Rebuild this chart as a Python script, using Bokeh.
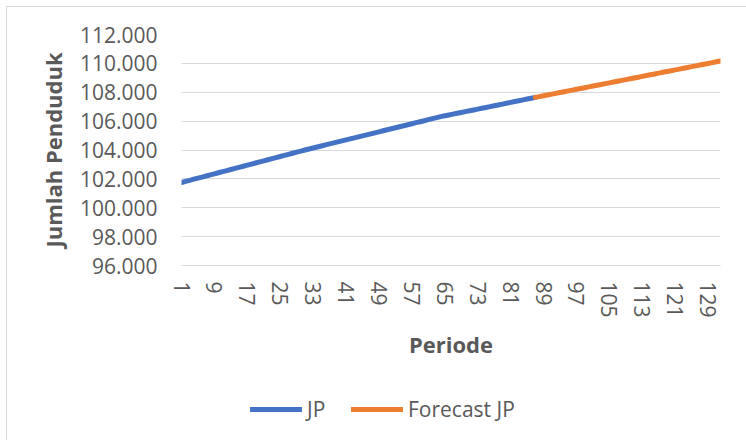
from bokeh.plotting import figure
from bokeh.layouts import column
from bokeh.models import Range1d, FixedTicker, Legend, LegendItem
from bokeh.embed import file_html
from bokeh.resources import INLINE

# ---- data ----
jp_periods = list(range(1, 88))
jp_values = [
    101750, 101826, 101900, 101977, 102051, 102127, 102201, 102276, 102350, 102426,
    102500, 102574, 102650, 102724, 102799, 102874, 102950, 103024, 103099, 103175,
    103249, 103325, 103399, 103476, 103550, 103625, 103699, 103776, 103850, 103924,
    104000, 104071, 104140, 104211, 104280, 104351, 104420, 104489, 104561, 104630,
    104700, 104769, 104841, 104910, 104979, 105050, 105121, 105190, 105259, 105331,
    105400, 105470, 105539, 105611, 105680, 105749, 105820, 105891, 105960, 106029,
    106100, 106171, 106240, 106310, 106369, 106426, 106485, 106542, 106600, 106659,
    106716, 106774, 106833, 106890, 106948, 107007, 107064, 107122, 107181, 107238,
    107296, 107355, 107412, 107470, 107529, 107586, 107644,
]
fc_periods = list(range(87, 133))
fc_values = [
    107644, 107700, 107756, 107812, 107868, 107924, 107980, 108036, 108092, 108148,
    108204, 108260, 108316, 108372, 108428, 108484, 108540, 108596, 108652, 108708,
    108764, 108820, 108876, 108932, 108988, 109044, 109100, 109156, 109212, 109268,
    109324, 109380, 109436, 109492, 109548, 109604, 109660, 109716, 109772, 109828,
    109884, 109940, 109996, 110052, 110108, 110164,
]
x_ticks = [1, 9, 17, 25, 33, 41, 49, 57, 65, 73, 81, 89, 97, 105, 113, 121, 129]
y_ticks = [96000, 98000, 100000, 102000, 104000, 106000, 108000, 110000, 112000]
y_labels = ["96.000", "98.000", "100.000", "102.000", "104.000",
            "106.000", "108.000", "110.000", "112.000"]
series_names = ["JP", "Forecast JP"]
x_title = "Periode"
y_title = "Jumlah Penduduk"

FONT = "Open Sans"
TXT = "#595959"
GRID = "#d9d9d9"
BLUE = "#4472C4"
ORANGE = "#ED7D31"

p = figure(
    output_backend="svg", toolbar_location=None,
    frame_width=539, frame_height=231,
    min_border_left=174, min_border_right=26,
    min_border_top=27, min_border_bottom=115,
    x_range=Range1d(1, 132), y_range=Range1d(96000, 112000),
    background_fill_color="white", border_fill_color="white",
)
p.outline_line_color = None
p.xgrid.visible = False
p.ygrid.grid_line_color = GRID
p.ygrid.grid_line_width = 1

# y axis
p.yaxis.ticker = FixedTicker(ticks=y_ticks)
p.yaxis.major_label_overrides = {t: l for t, l in zip(y_ticks, y_labels)}
p.ygrid.ticker = FixedTicker(ticks=y_ticks)
p.yaxis.axis_line_color = None
p.yaxis.major_tick_line_color = None
p.yaxis.minor_tick_line_color = None
p.yaxis.major_label_standoff = 18
p.yaxis.major_label_text_font = FONT
p.yaxis.major_label_text_font_size = "21px"
p.yaxis.major_label_text_color = TXT
p.yaxis.axis_label = y_title
p.yaxis.axis_label_text_font = FONT
p.yaxis.axis_label_text_font_style = "bold"
p.yaxis.axis_label_text_font_size = "22px"
p.yaxis.axis_label_text_color = TXT
p.yaxis.axis_label_standoff = 9

# x axis
p.xaxis.ticker = FixedTicker(ticks=x_ticks)
p.xaxis.axis_line_color = GRID
p.xaxis.axis_line_width = 1
p.xaxis.major_tick_line_color = None
p.xaxis.minor_tick_line_color = None
p.xaxis.major_label_orientation = "vertical"
p.xaxis.major_label_standoff = 10
p.xaxis.major_label_text_font = FONT
p.xaxis.major_label_text_font_size = "21px"
p.xaxis.major_label_text_color = TXT
p.xaxis.axis_label = x_title
p.xaxis.axis_label_text_font = FONT
p.xaxis.axis_label_text_font_style = "bold"
p.xaxis.axis_label_text_font_size = "22px"
p.xaxis.axis_label_text_color = TXT
p.xaxis.axis_label_standoff = 8

line_style = dict(line_width=5, line_cap="round", line_join="round")
p.line(jp_periods, jp_values, line_color=BLUE, **line_style)
p.line(fc_periods, fc_values, line_color=ORANGE, **line_style)

# legend strip below the chart (its series lie outside its own range: only the key shows)
lg = figure(
    output_backend="svg", toolbar_location=None,
    width=739, height=60, min_border=0,
    x_range=Range1d(0, 1), y_range=Range1d(0, 1),
    x_axis_location=None, y_axis_location=None,
    background_fill_color="white", border_fill_color="white",
)
lg.outline_line_color = None
lg.grid.visible = False
k1 = lg.line(jp_periods, jp_values, line_color=BLUE, **line_style)
k2 = lg.line(fc_periods, fc_values, line_color=ORANGE, **line_style)
legend = Legend(
    items=[LegendItem(label=series_names[0], renderers=[k1]),
           LegendItem(label=series_names[1], renderers=[k2])],
    orientation="horizontal", location=(69, 17),
    glyph_width=52, glyph_height=20, label_height=20, label_standoff=5,
    spacing=24, padding=0, margin=0,
    border_line_color=None, background_fill_alpha=0,
    label_text_font=FONT, label_text_font_size="21px", label_text_color=TXT,
)
lg.add_layout(legend, "center")

layout = column(p, lg, spacing=0)
layout.styles = {"margin-left": "6px", "margin-top": "6px",
                 "border-left": "1px solid #d9d9d9", "border-top": "1px solid #d9d9d9"}

open("out.html", "w").write(file_html(layout, INLINE))
